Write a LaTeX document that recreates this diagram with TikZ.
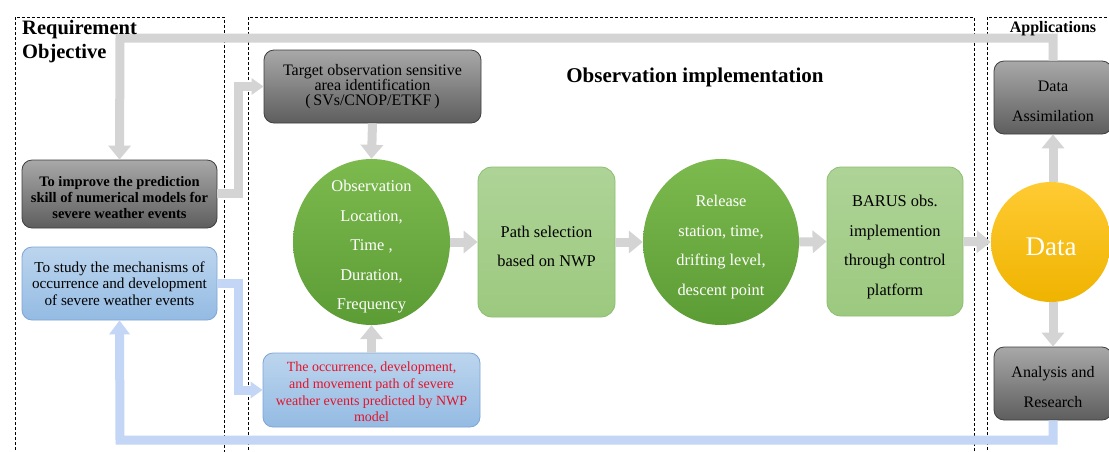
\documentclass[tikz,border=0pt]{standalone}
\usepackage{fontspec}
\setmainfont{Liberation Serif}
\usetikzlibrary{arrows.meta,shapes.geometric}
\definecolor{arrgray}{HTML}{D4D4D4}
\definecolor{arrblue}{HTML}{C3D6F5}
\definecolor{dkborder}{HTML}{3F3F3F}
\definecolor{dktop}{HTML}{A8A8A8}
\definecolor{dkbot}{HTML}{5E5E5E}
\definecolor{gntop}{HTML}{7CBA4E}
\definecolor{gnbot}{HTML}{5C9C35}
\definecolor{lgtop}{HTML}{AED397}
\definecolor{lgbot}{HTML}{9CC97F}
\definecolor{lgborder}{HTML}{8DBE6F}
\definecolor{bltop}{HTML}{BCD5EE}
\definecolor{blbot}{HTML}{94BBE3}
\definecolor{blborder}{HTML}{7DA6D6}
\definecolor{ywtop}{HTML}{FFCB33}
\definecolor{ywbot}{HTML}{EFB300}
\definecolor{redtxt}{HTML}{E2142C}
\tikzset{
  x=1pt, y=-1pt,
  frame/.style={draw=black, dashed, dash pattern=on 3pt off 2pt, line width=0.6pt},
  darkbox/.style={draw=dkborder, line width=0.8pt, rounded corners=10pt, top color=dktop, bottom color=dkbot, inner sep=0pt, align=center},
  bluebox/.style={draw=blborder, line width=0.8pt, rounded corners=10pt, top color=bltop, bottom color=blbot, inner sep=0pt, align=center},
  lgbox/.style={draw=lgborder, line width=0.8pt, rounded corners=14pt, top color=lgtop, bottom color=lgbot, inner sep=0pt},
  gncirc/.style={ellipse, draw=none, top color=gntop, bottom color=gnbot, inner sep=0pt},
  bigtxt/.style={inner sep=0pt, align=center, font=\fontsize{16.4}{29.5}\selectfont},
  garr/.style={draw=arrgray, line width=9pt, line join=miter, -{Triangle[width=22pt,length=14pt]}},
  barr/.style={draw=arrblue, line width=9pt, line join=miter, -{Triangle[width=20pt,length=14pt]}},
  title/.style={font=\bfseries\fontsize{20.5}{24}\selectfont, inner sep=0pt}
}
\begin{document}
\begin{tikzpicture}
\useasboundingbox (0,0) rectangle (1109,451);
\fill[white] (0,0) rectangle (1109,451);
% dashed frames
\draw[frame] (15,460) -- (15,17) -- (224,17) -- (224,460);
\draw[frame] (248,460) -- (248,17) -- (974,17) -- (974,460);
\draw[frame] (987,460) -- (987,17) -- (1120,17);
% boxes
\node[darkbox, minimum width=217pt, minimum height=73pt, font=\fontsize{16}{15}\selectfont] (target) at (372.5,86.5) {Target observation sensitive\\area identification\\(\,SVs/CNOP/ETKF\,)};
\node[darkbox, minimum width=195pt, minimum height=68pt] (improve) at (119.5,194) {};
\node[inner sep=0pt, align=center, font=\bfseries\fontsize{14.5}{16}\selectfont] (improvetxt) at ([yshift=-4pt]improve.center) {To improve the prediction\\skill of numerical models for\\severe weather events};
\node[bluebox, minimum width=195pt, minimum height=73pt, font=\fontsize{15.2}{16.5}\selectfont] (study) at (119.5,283.5) {To study the mechanisms of\\occurrence and development\\of severe weather events};
\node[bluebox, minimum width=217pt, minimum height=74pt] (predicted) at (371.5,390) {};
\node[inner sep=0pt, align=center, text=redtxt, font=\fontsize{14}{16.8}\selectfont] (predictedtxt) at ([yshift=-2pt]predicted.center) {The occurrence, development,\\and movement path of severe\\weather events predicted by NWP\\model};
% observation chain
\node[gncirc, minimum width=157pt, minimum height=166pt] (obs) at (371.5,242) {};
\node[bigtxt, text=white] (obstxt) at ([yshift=-5pt]obs.center) {Observation\\Location,\\Time ,\\Duration,\\Frequency};
\node[lgbox, minimum width=137pt, minimum height=150pt] (path) at (546.5,242) {};
\node[bigtxt] (pathtxt) at ([yshift=-4.5pt]path.center) {Path selection\\based on NWP};
\node[gncirc, minimum width=156pt, minimum height=166pt] (release) at (721,242) {};
\node[bigtxt, text=white] (releasetxt) at ([yshift=-5pt]release.center) {Release\\station, time,\\drifting level,\\descent point};
\node[lgbox, minimum width=136pt, minimum height=149pt] (barus) at (895,241.5) {};
\node[bigtxt] (barustxt) at ([yshift=-5.5pt]barus.center) {BARUS obs.\\implemention\\through control\\platform};
% applications
\node[circle, top color=ywtop, bottom color=ywbot, minimum size=120pt, inner sep=0pt] (data) at (1051,242) {};
\node[inner sep=0pt, text=white, font=\fontsize{27}{30}\selectfont] (datatxt) at ([yshift=-5pt]data.center) {Data};
\node[darkbox, minimum width=118pt, minimum height=73pt] (da) at (1053,97.5) {};
\node[bigtxt, font=\fontsize{16}{30}\selectfont] (datxt) at ([yshift=-4pt]da.center) {Data\\Assimilation};
\node[darkbox, minimum width=118pt, minimum height=73pt] (ar) at (1053,383.5) {};
\node[bigtxt, font=\fontsize{16}{30}\selectfont] (artxt) at ([yshift=-4pt]ar.center) {Analysis and\\Research};
% bend points
\coordinate (t1) at (1053,38);
\coordinate (t2) at (120,38);
\coordinate (i1) at (238,193);
\coordinate (i2) at (238,86.5);
\coordinate (s1) at (238,283.5);
\coordinate (s2) at (238,390);
\coordinate (b1) at (1053,440);
\coordinate (b2) at (120,440);
% connectors
\draw[garr] (da.north) -- (t1) -- (t2) -- (improve.north);
\draw[garr, -{Triangle[width=16pt,length=12pt]}] (improve.east |- i1) -- (i1) -- (i2) -- (target.west);
\draw[barr, -{Triangle[width=16pt,length=12pt]}] (study.east) -- (s1) -- (s2) -- (predicted.west);
\draw[barr] (ar.south) -- (b1) -- (b2) -- (study.south);
\draw[garr] (target.south) -- (obs.north);
\draw[garr] (predicted.north) -- (obs.south);
\draw[garr] (obs.east) -- (path.west);
\draw[garr] (path.east) -- (release.west);
\draw[garr] (release.east) -- (barus.west);
\draw[garr] (barus.east) -- (data.west);
\draw[garr] (da.south |- data.north) -- (da.south);
\draw[garr] (ar.north |- data.south) -- (ar.north);
% titles
\node[title, anchor=base west] (reqtitle1) at (22,34) {Requirement};
\node[title, anchor=base west] (reqtitle2) at (22,58) {Objective};
\node[font=\bfseries\fontsize{21}{24}\selectfont, inner sep=0pt] (obstitle) at (695,77) {Observation implementation};
\node[font=\bfseries\fontsize{16}{18}\selectfont, inner sep=0pt] (apptitle) at (1053,29) {Applications};
\end{tikzpicture}
\end{document}
